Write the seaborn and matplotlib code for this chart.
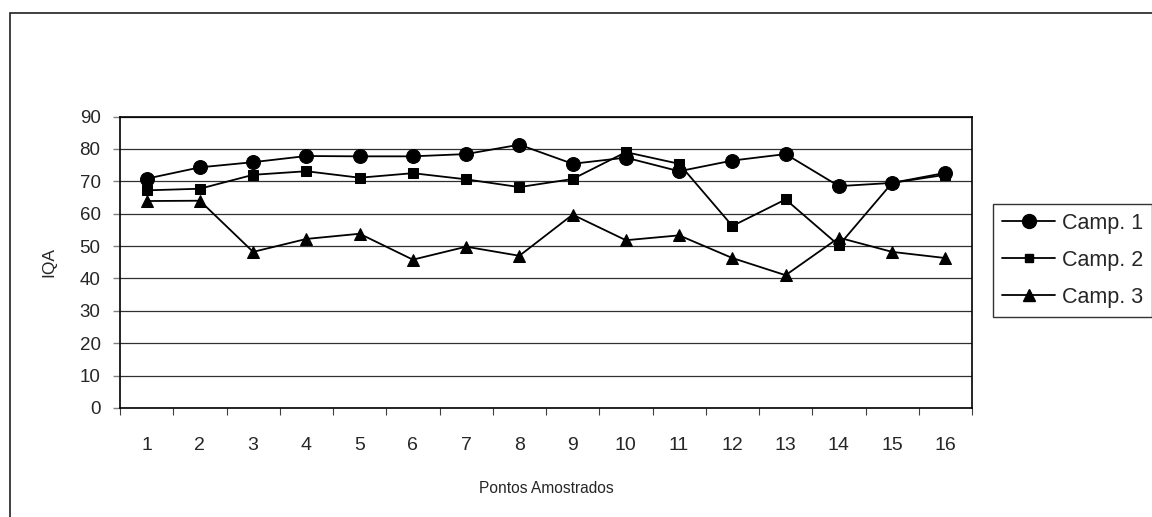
import pandas as pd
import numpy as np
import matplotlib
matplotlib.use('Agg')
import matplotlib.pyplot as plt
from matplotlib.patches import Rectangle
import seaborn as sns

# values
pontos = [str(i) for i in range(1, 17)]
camp1 = [70.8, 74.3, 75.9, 77.8, 77.7, 77.7, 78.4, 81.3, 75.4, 77.3, 73.1, 76.4, 78.4, 68.5, 69.5, 72.6]
camp2 = [67.2, 67.7, 72.0, 73.1, 71.1, 72.5, 70.6, 68.2, 70.7, 79.0, 75.4, 56.2, 64.4, 50.2, 69.5, 72.0]
camp3 = [63.9, 64.0, 48.2, 52.2, 53.8, 45.8, 49.8, 47.0, 59.7, 51.8, 53.3, 46.3, 41.0, 52.6, 48.2, 46.3]
series_names = ['Camp. 1', 'Camp. 2', 'Camp. 3']
yticks = list(range(0, 91, 10))

df = pd.DataFrame({'Ponto': pontos * 3,
                   'pos': list(range(16)) * 3,
                   'IQA': camp1 + camp2 + camp3,
                   'Campanha': [n for n in series_names for _ in pontos]})

sns.set_theme(style='white')
plt.rcParams['font.family'] = ['Liberation Sans', 'DejaVu Sans']

fig = plt.figure(figsize=(11.52, 5.17), dpi=100)
ax = fig.add_axes([120 / 1152, 1 - 408 / 517, 852 / 1152, (408 - 116.5) / 517])

# outer chart frame (runs off the right and bottom of the picture)
fig.patches.append(Rectangle((9.5 / 1152, -0.05), 1.1, 1 - 12.7 / 517 + 0.05,
                             transform=fig.transFigure, fill=False,
                             edgecolor='#202020', linewidth=1.2))

ax.set_axisbelow(True)
for v in yticks:
    ax.axhline(v, color='#303030', linewidth=0.9, zorder=0)

sns.lineplot(data=df, x='pos', y='IQA', hue='Campanha', style='Campanha',
             palette=['black'] * 3, markers={'Camp. 1': 'o', 'Camp. 2': 's', 'Camp. 3': '^'},
             dashes=False, linewidth=1.3, markeredgecolor='black', legend=False, ax=ax)
# marker sizes per series
for line, ms in zip(ax.get_lines()[-3:], [10, 7.5, 8.5]):
    line.set_markersize(ms)

ax.set_xlim(-0.5, 15.5)
ax.set_ylim(0, 90)
ax.set_yticks(yticks)
ax.set_yticklabels([str(t) for t in yticks], fontsize=13.5)
ax.set_xticks(np.arange(-0.5, 16, 1))
ax.set_xticklabels([])
ax.set_xticks(np.arange(16), minor=True)
ax.set_xticklabels(pontos, minor=True, fontsize=14)
ax.tick_params(axis='x', which='major', bottom=True, direction='out', length=5, width=0.8, color='#404040')
ax.tick_params(axis='x', which='minor', bottom=False, length=0, pad=21)
ax.tick_params(axis='y', left=True, direction='out', length=5, width=1, color='#808080', pad=9)

for side in ['left', 'right', 'top', 'bottom']:
    ax.spines[side].set_visible(True)
    ax.spines[side].set_color('black')
    ax.spines[side].set_linewidth(1.2)

ax.set_xlabel('Pontos Amostrados', fontsize=11.2, labelpad=19)
ax.set_ylabel('IQA', fontsize=12.5, labelpad=17)

# legend
handles = [plt.Line2D([], [], color='black', marker=m, markersize=s, linewidth=1.3)
           for m, s in zip(['o', 's', '^'], [10, 6, 8])]
leg = fig.legend(handles, series_names, loc='upper left',
                 bbox_to_anchor=(993 / 1152, 1 - 204 / 517), borderaxespad=0,
                 fontsize=15.5, frameon=True, fancybox=False, handlelength=2.5,
                 handletextpad=0.3, labelspacing=0.75, borderpad=0.4)
leg.get_frame().set_edgecolor('black')
leg.get_frame().set_linewidth(1.0)

fig.savefig('out.png', dpi=100)
